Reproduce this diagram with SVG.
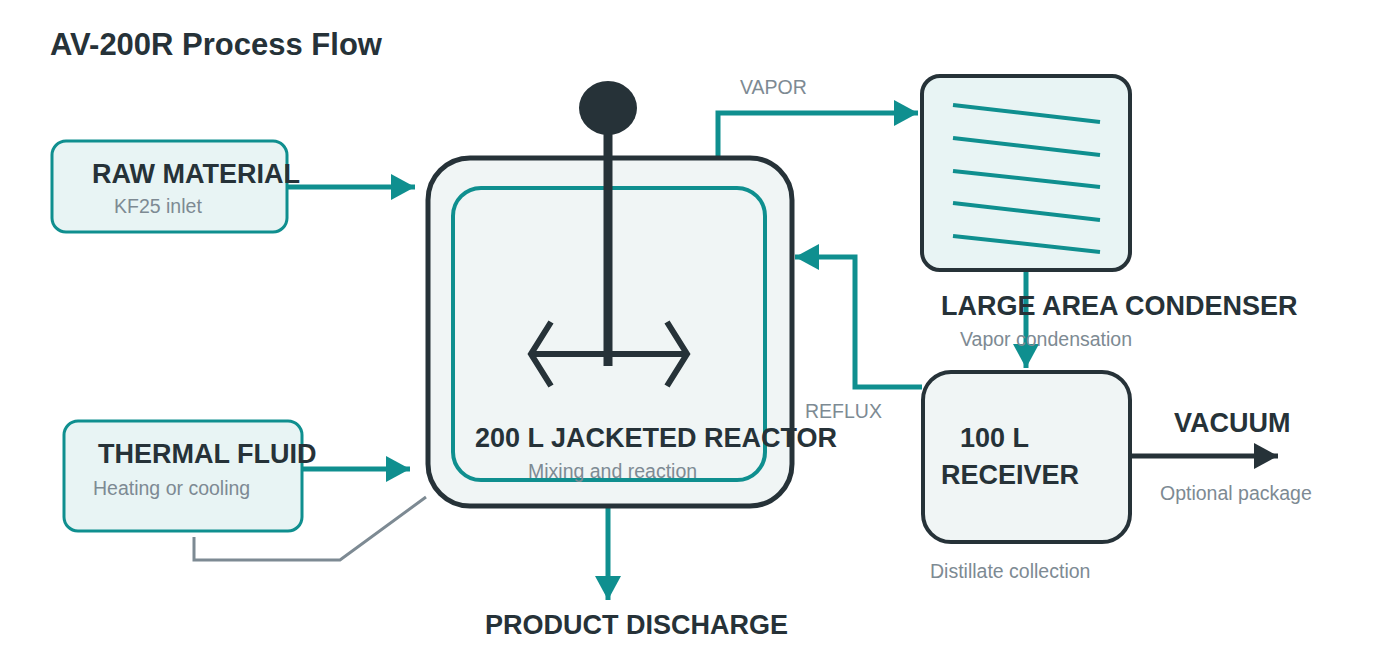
<svg xmlns="http://www.w3.org/2000/svg" width="1400" height="661" viewBox="0 0 1400 661">
<style>
.t{font-family:"Liberation Sans",Arial,sans-serif;font-weight:bold;font-size:27px;fill:#263238}
.s{font-family:"Liberation Sans",Arial,sans-serif;font-size:19.5px;fill:#7d8a93}
.tl{stroke:#0f8f8f;stroke-width:5;fill:none}
.box{fill:#e8f4f4;stroke:#0f8f8f;stroke-width:3}
</style>
<defs>
<marker id="at" markerUnits="userSpaceOnUse" markerWidth="26" markerHeight="30" refX="24" refY="15" orient="auto"><path d="M0,2 L24,15 L0,28 Z" fill="#0f8f8f"/></marker>
<marker id="ad" markerUnits="userSpaceOnUse" markerWidth="26" markerHeight="30" refX="24" refY="15" orient="auto"><path d="M0,2 L24,15 L0,28 Z" fill="#263238"/></marker>
</defs>
<rect width="1400" height="661" fill="#fff"/>
<text x="50" y="55" class="t" style="font-size:31px">AV-200R Process Flow</text>
<g id="connectors">
<path class="tl" d="M287,187 H415" marker-end="url(#at)"/>
<path class="tl" d="M302,469 H410" marker-end="url(#at)"/>
<path class="tl" d="M718,158 V113 H918" marker-end="url(#at)"/>
<path class="tl" d="M1026,270 V368" marker-end="url(#at)"/>
<path class="tl" d="M922,387 H855 V257 H795" marker-end="url(#at)"/>
<path class="tl" d="M608,506 V600" marker-end="url(#at)"/>
<path d="M1130,456 H1278" stroke="#263238" stroke-width="5" fill="none" marker-end="url(#ad)"/>
<polyline points="194,537 194,560 340,560 426,497" fill="none" stroke="#7d8a93" stroke-width="3"/>
<text x="740" y="94" class="s">VAPOR</text>
<text x="805" y="418" class="s">REFLUX</text>
</g>
<g id="raw">
<rect x="52" y="141" width="235" height="91" rx="14" class="box"/>
<text x="92" y="183" class="t">RAW MATERIAL</text>
<text x="114" y="213" class="s">KF25 inlet</text>
</g>
<g id="thermal">
<rect x="64" y="421" width="238" height="110" rx="14" class="box"/>
<text x="98" y="463" class="t">THERMAL FLUID</text>
<text x="93" y="495" class="s">Heating or cooling</text>
</g>
<g id="reactor">
<rect x="428" y="158" width="364" height="348" rx="42" fill="#f0f5f5" stroke="#263238" stroke-width="5"/>
<rect x="453" y="188" width="312" height="292" rx="28" fill="none" stroke="#0f8f8f" stroke-width="4"/>
<ellipse cx="608" cy="108" rx="29" ry="27" fill="#263238"/>
<line x1="608" y1="108" x2="608" y2="366" stroke="#263238" stroke-width="9"/>
<line x1="530" y1="354" x2="688" y2="354" stroke="#263238" stroke-width="6"/>
<polyline points="551,322 531,354 551,386" fill="none" stroke="#263238" stroke-width="6"/>
<polyline points="667,322 687,354 667,386" fill="none" stroke="#263238" stroke-width="6"/>
<text x="475" y="447" class="t">200 L JACKETED REACTOR</text>
<text x="528" y="478" class="s">Mixing and reaction</text>
</g>
<g id="condenser">
<rect x="922" y="76" width="208" height="194" rx="18" fill="#e8f4f4" stroke="#263238" stroke-width="4"/>
<g stroke="#0f8f8f" stroke-width="4">
<line x1="953" y1="105" x2="1100" y2="122"/><line x1="953" y1="138" x2="1100" y2="155"/><line x1="953" y1="171" x2="1100" y2="187"/><line x1="953" y1="203" x2="1100" y2="220"/><line x1="953" y1="236" x2="1100" y2="252"/>
</g>
<text x="941" y="315" class="t">LARGE AREA CONDENSER</text>
<text x="960" y="346" class="s">Vapor condensation</text>
</g>
<g id="receiver">
<rect x="923" y="372" width="207" height="170" rx="28" fill="#f0f5f5" stroke="#263238" stroke-width="4"/>
<text x="960" y="447" class="t">100 L</text>
<text x="941" y="484" class="t">RECEIVER</text>
<text x="930" y="578" class="s">Distillate collection</text>
</g>
<g id="vacuum">
<text x="1174" y="432" class="t">VACUUM</text>
<text x="1160" y="500" class="s">Optional package</text>
</g>
<g id="discharge">
<text x="485" y="634" class="t">PRODUCT DISCHARGE</text>
</g>
</svg>
